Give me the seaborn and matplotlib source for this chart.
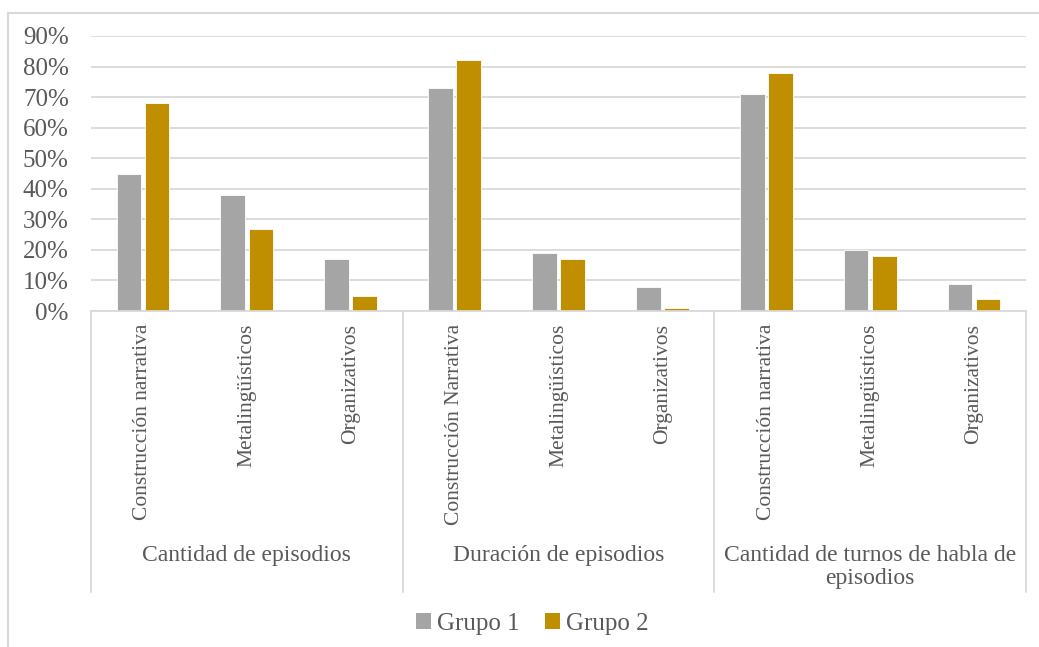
import matplotlib
matplotlib.use("Agg")
import matplotlib.pyplot as plt
from matplotlib.lines import Line2D
from matplotlib.patches import Patch
import matplotlib.ticker as mticker
import pandas as pd
import seaborn as sns

# ---------- data ----------
groups = ["Cantidad de episodios", "Duración de episodios",
          "Cantidad de turnos de habla de\nepisodios"]
categories = [
    ["Construcción narrativa", "Metalingüísticos", "Organizativos"],
    ["Construcción Narrativa", "Metalingüísticos", "Organizativos"],
    ["Construcción narrativa", "Metalingüísticos", "Organizativos"],
]
grupo1 = [0.45, 0.38, 0.17, 0.73, 0.19, 0.08, 0.71, 0.20, 0.09]
grupo2 = [0.68, 0.27, 0.05, 0.82, 0.17, 0.01, 0.78, 0.18, 0.04]
series = ["Grupo 1", "Grupo 2"]
colors = ["#A5A5A5", "#BF8F00"]

flat_labels = [c for cats in categories for c in cats]
keys = [f"{i}" for i in range(len(flat_labels))]
df = pd.DataFrame({
    "key": keys * 2,
    "value": grupo1 + grupo2,
    "serie": [series[0]] * len(keys) + [series[1]] * len(keys),
})

# ---------- figure ----------
sns.set_style("white")
plt.rcParams["font.family"] = ["Liberation Serif", "DejaVu Serif"]
text_color = "#595959"
line_color = "#D9D9D9"

fig = plt.figure(figsize=(10.39, 6.47), dpi=100)
W, H = 1039, 647
ax = fig.add_axes([91 / W, 1 - 311 / H, (1026 - 91) / W, (311 - 36) / H])

sns.barplot(data=df, x="key", y="value", hue="serie", order=keys,
            palette=colors, width=0.54, gap=0.12, ax=ax, legend=False,
            edgecolor="white", linewidth=0.6, saturation=1)

ax.set_ylim(0, 0.9)
ax.set_xlim(-0.5, len(keys) - 0.5)
ax.yaxis.set_major_locator(mticker.MultipleLocator(0.1))
ax.yaxis.set_major_formatter(mticker.PercentFormatter(1.0, decimals=0))
ax.grid(axis="y", color=line_color, linewidth=1.3)
ax.set_axisbelow(True)
for side in ["top", "right", "left"]:
    ax.spines[side].set_visible(False)
ax.spines["bottom"].set_color(line_color)
ax.spines["bottom"].set_linewidth(1.3)
ax.tick_params(axis="y", length=0, labelsize=18, labelcolor=text_color, pad=16)
ax.set_xticks(range(len(keys)))
ax.set_xticklabels(flat_labels, rotation=90, fontsize=15.5, color=text_color,
                   va="top")
ax.tick_params(axis="x", length=0, pad=9)
ax.set_xlabel("")
ax.set_ylabel("")

# group separators and group labels
trans = ax.get_xaxis_transform()
sep_bottom = -(592 - 311) / (311 - 36)
for b in [-0.5, 2.5, 5.5, 8.5]:
    ax.add_line(Line2D([b, b], [0, sep_bottom], transform=trans,
                       color=line_color, linewidth=1.3, clip_on=False))
label_y = -(545 - 311) / (311 - 36)
for i, g in enumerate(groups):
    ax.text(3 * i + 1, label_y, g, transform=trans, ha="center", va="top",
            fontsize=17, color=text_color, linespacing=1.15)

# legend
handles = [Patch(facecolor=c, edgecolor="none", label=s) for s, c in zip(series, colors)]
fig.legend(handles=handles, loc="center", bbox_to_anchor=(532 / W, 1 - 624 / H),
           ncol=2, frameon=False, fontsize=18, labelcolor=text_color,
           handlelength=0.6, handleheight=0.6, handletextpad=0.25,
           columnspacing=1.0)

# chart-area border (left and top)
fig.add_artist(Line2D([8 / W, 8 / W], [0, 1 - 13 / H], color=line_color,
                      linewidth=1.5, transform=fig.transFigure))
fig.add_artist(Line2D([8 / W, 1], [1 - 13 / H, 1 - 13 / H], color=line_color,
                      linewidth=1.5, transform=fig.transFigure))

fig.savefig("out.png", dpi=100, facecolor="white")
